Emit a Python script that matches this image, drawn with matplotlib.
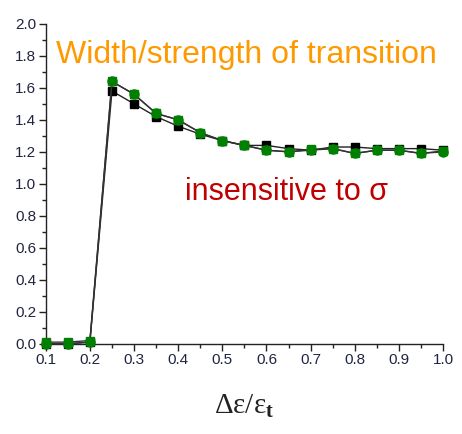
import matplotlib
matplotlib.use("Agg")
import matplotlib.pyplot as plt
from matplotlib.ticker import MultipleLocator, FormatStrFormatter

# Transition width vs. normalized strain step, three sigma values
x = [0.10, 0.15, 0.20, 0.25, 0.30, 0.35, 0.40, 0.45, 0.50, 0.55,
     0.60, 0.65, 0.70, 0.75, 0.80, 0.85, 0.90, 0.95, 1.00]
black_sq = [0.00, 0.00, 0.01, 1.58, 1.50, 1.42, 1.36, 1.31, 1.27, 1.24,
            1.24, 1.22, 1.21, 1.23, 1.23, 1.22, 1.22, 1.22, 1.21]
green_sq = [0.01, 0.01, 0.02, 1.64, 1.56, 1.44, 1.40, 1.32, 1.27, 1.24,
            1.21, 1.20, 1.215, 1.22, 1.19, 1.21, 1.21, 1.19, 1.205]
green_ci = [0.00, 0.00, 0.01, 1.64, 1.56, 1.44, 1.40, 1.32, 1.27, 1.24,
            1.21, 1.20, 1.21, 1.22, 1.19, 1.21, 1.21, 1.19, 1.20]

plt.rcParams['font.family'] = ['Liberation Sans', 'DejaVu Sans']
plt.rcParams['mathtext.fontset'] = 'custom'
plt.rcParams['mathtext.rm'] = 'Liberation Serif'
plt.rcParams['mathtext.it'] = 'Liberation Serif'
plt.rcParams['mathtext.bf'] = 'Liberation Serif:bold'

fig = plt.figure(figsize=(4.62, 4.34), dpi=100)
ax = fig.add_axes([0.099, 0.208, 0.860, 0.737])

green = '#008000'
ax.plot(x, black_sq, '-', color='#222222', lw=1.0, marker='s', ms=6,
        mfc='black', mec='black', clip_on=False, zorder=3)
ax.plot(x, green_sq, '-', color='#333333', lw=1.0, marker='s', ms=6,
        mfc=green, mec=green, clip_on=False, zorder=4)
ax.plot(x, green_ci, '-', color='#333333', lw=1.0, marker='o', ms=6.5,
        mfc=green, mec=green, clip_on=False, zorder=5)

ax.set_xlim(0.1, 1.0)
ax.set_ylim(0.0, 2.0)
ax.xaxis.set_major_locator(MultipleLocator(0.1))
ax.xaxis.set_minor_locator(MultipleLocator(0.05))
ax.yaxis.set_major_locator(MultipleLocator(0.2))
ax.yaxis.set_minor_locator(MultipleLocator(0.1))
ax.xaxis.set_major_formatter(FormatStrFormatter('%.1f'))
ax.yaxis.set_major_formatter(FormatStrFormatter('%.1f'))

for s in ['top', 'right']:
    ax.spines[s].set_visible(False)
for s in ['left', 'bottom']:
    ax.spines[s].set_color('#222222')
    ax.spines[s].set_linewidth(1.0)

label_color = '#1f2540'
ax.tick_params(which='major', direction='out', length=5, width=1.0,
               colors='#222222', labelcolor=label_color, labelsize=11, pad=2)
ax.tick_params(which='minor', direction='out', length=3, width=1.0,
               colors='#222222')

ax.set_xlabel(r'$\mathrm{Δε/ε}_\mathbf{t}$', fontsize=21,
              color='#222222', labelpad=18)

fig.text(56 / 462, 1 - 63 / 434, 'Width/strength of transition',
         color='#FF9900', fontsize=23, ha='left', va='baseline')
fig.text(185 / 462, 1 - 200 / 434, 'insensitive to σ',
         color='#C00000', fontsize=22, ha='left', va='baseline')

fig.savefig('out.png', dpi=100)
